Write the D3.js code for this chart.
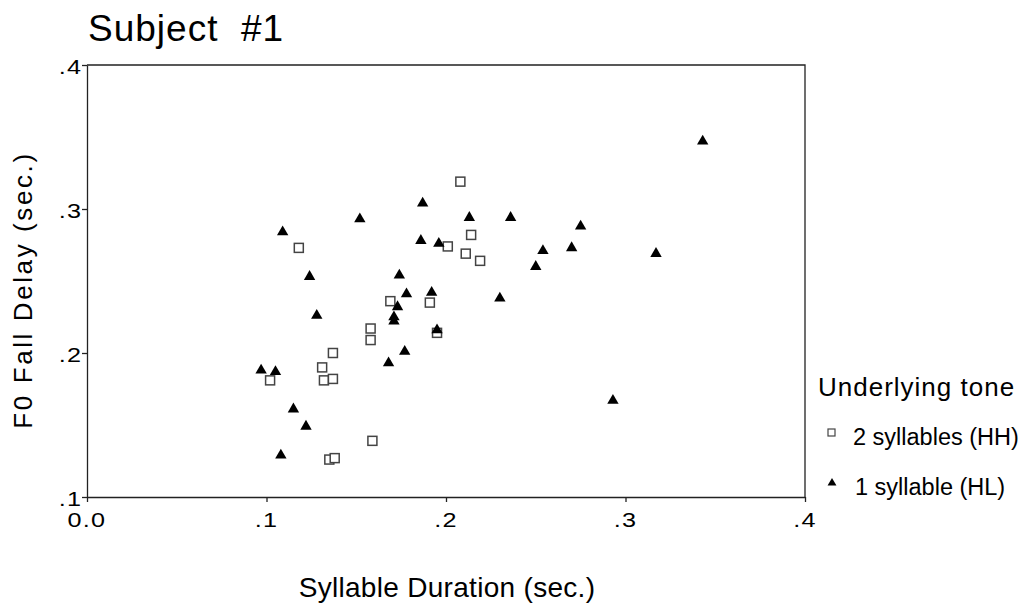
<!DOCTYPE html>
<html>
<head>
<meta charset="utf-8">
<script src="https://cdn.jsdelivr.net/npm/d3@7"></script>
<style>
 body { margin: 0; background: #fff; }
 svg text { font-family: "Liberation Sans", Arial, Helvetica, sans-serif; fill: #000; }
 .axis path, .axis line { stroke: #222; stroke-width: 1.3; }
</style>
</head>
<body>
<div id="chart"></div>
<script>
// 2 syllables (HH) — open squares
const hhDuration = [0.102, 0.118, 0.131, 0.132, 0.137, 0.137, 0.135, 0.138, 0.158, 0.158,
 0.159, 0.169, 0.191, 0.195, 0.201, 0.208, 0.211, 0.214, 0.219];
const hhDelay = [0.181, 0.273, 0.190, 0.181, 0.200, 0.182, 0.126, 0.127, 0.217, 0.209,
 0.139, 0.236, 0.235, 0.214, 0.274, 0.319, 0.269, 0.282, 0.264];

// 1 syllable (HL) — filled triangles
const hlDuration = [0.097, 0.105, 0.109, 0.115, 0.122, 0.108, 0.124, 0.128, 0.152, 0.168,
 0.171, 0.171, 0.173, 0.174, 0.177, 0.178, 0.187, 0.186, 0.192, 0.195, 0.196, 0.213,
 0.230, 0.236, 0.250, 0.254, 0.270, 0.275, 0.293, 0.317, 0.343];
const hlDelay = [0.188, 0.187, 0.284, 0.161, 0.149, 0.129, 0.253, 0.226, 0.293, 0.193,
 0.225, 0.222, 0.232, 0.254, 0.201, 0.241, 0.304, 0.278, 0.242, 0.216, 0.276, 0.294,
 0.238, 0.294, 0.260, 0.271, 0.273, 0.288, 0.167, 0.269, 0.347];

const xTicks = [0, 0.1, 0.2, 0.3, 0.4];
const yTicks = [0.1, 0.2, 0.3, 0.4];

const width = 1026;
const height = 610;
const margin = { top: 65, right: 221, bottom: 113, left: 87 };
const plotW = width - margin.left - margin.right;
const plotH = height - margin.top - margin.bottom;

const svg = d3.select("#chart").append("svg")
 .attr("width", width)
 .attr("height", height);

const x = d3.scaleLinear().domain([0, 0.4]).range([margin.left, margin.left + plotW]);
const y = d3.scaleLinear().domain([0.1, 0.4]).range([margin.top + plotH, margin.top]);

const fmt = d => d === 0 ? "0.0" : d3.format(".1f")(d).replace(/^0/, "");

// frame (top + right)
svg.append("path")
 .attr("d", `M${x(0)},${y(0.4)}H${x(0.4)}V${y(0.1)}`)
 .attr("fill", "none")
 .attr("stroke", "#222")
 .attr("stroke-width", 1.3);

// tick labels in the original are wide, so stretch them a little
const xAxis = svg.append("g")
 .attr("class", "axis")
 .attr("transform", `translate(0,${y(0.1)})`)
 .call(d3.axisBottom(x).tickValues(xTicks).tickFormat(fmt).tickSize(5).tickSizeOuter(0));
xAxis.selectAll("text")
 .attr("font-size", 21)
 .style("font-size", "21px")
 .style("letter-spacing", "1px")
 .attr("transform", "scale(1.2,1)")
 .attr("y", 30)
 .attr("dy", null)
 .attr("dx", -0.5);

const yAxis = svg.append("g")
 .attr("class", "axis")
 .attr("transform", `translate(${x(0)},0)`)
 .call(d3.axisLeft(y).tickValues(yTicks).tickFormat(fmt).tickSize(5).tickSizeOuter(0));
yAxis.selectAll("text")
 .attr("font-size", 21)
 .style("font-size", "21px")
 .style("letter-spacing", "1px")
 .attr("transform", "scale(1.2,1)")
 .attr("x", -4)
 .attr("dy", null)
 .attr("y", 8);

// title
svg.append("text")
 .attr("x", 88)
 .attr("y", 41)
 .attr("xml:space", "preserve")
 .style("font-size", "37px")
 .style("letter-spacing", "1px")
 .text("Subject  #1");

// axis labels
svg.append("text")
 .attr("x", 447)
 .attr("y", 597)
 .attr("text-anchor", "middle")
 .style("font-size", "28px")
 .style("letter-spacing", "0.3px")
 .text("Syllable Duration (sec.)");

svg.append("text")
 .attr("transform", "translate(32,290) rotate(-90)")
 .attr("text-anchor", "middle")
 .style("font-size", "26px")
 .style("letter-spacing", "2.6px")
 .text("F0 Fall Delay (sec.)");

const hh = hhDuration.map((d, i) => ({ x: d, y: hhDelay[i] }));
const hl = hlDuration.map((d, i) => ({ x: d, y: hlDelay[i] }));

const sq = 9;
svg.append("g").selectAll("rect")
 .data(hh)
 .enter()
 .append("rect")
 .attr("x", d => x(d.x) - sq / 2)
 .attr("y", d => y(d.y) - sq / 2)
 .attr("width", sq)
 .attr("height", sq)
 .attr("fill", "#fff")
 .attr("stroke", "#444")
 .attr("stroke-width", 1.5);

const tri = d3.symbol().type(d3.symbolTriangle).size(56);
svg.append("g").selectAll("path")
 .data(hl)
 .enter()
 .append("path")
 .attr("d", tri)
 .attr("transform", d => `translate(${x(d.x)},${y(d.y)})`)
 .attr("fill", "#000");

// legend
const lg = svg.append("g");
lg.append("text")
 .attr("x", 818)
 .attr("y", 396)
 .style("font-size", "26px")
 .style("letter-spacing", "1px")
 .text("Underlying tone");

lg.append("rect")
 .attr("x", 828)
 .attr("y", 429)
 .attr("width", 7)
 .attr("height", 7)
 .attr("fill", "#fff")
 .attr("stroke", "#444")
 .attr("stroke-width", 1.2);
lg.append("text")
 .attr("x", 853)
 .attr("y", 445)
 .style("font-size", "23.5px")
 .text("2 syllables (HH)");

lg.append("path")
 .attr("d", d3.symbol().type(d3.symbolTriangle).size(34))
 .attr("transform", "translate(832,483)")
 .attr("fill", "#000");
lg.append("text")
 .attr("x", 855)
 .attr("y", 495)
 .style("font-size", "23.5px")
 .text("1 syllable (HL)");
</script>
</body>
</html>
